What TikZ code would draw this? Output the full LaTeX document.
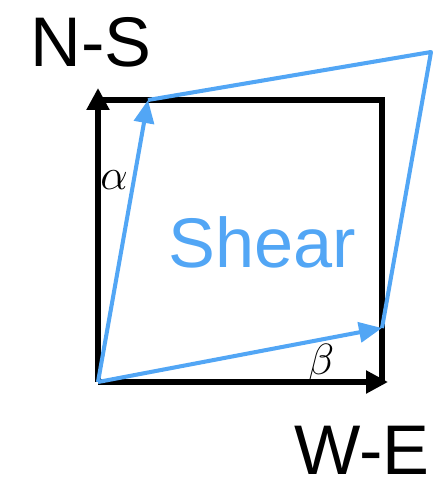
\documentclass[tikz,border=0pt]{standalone}
\usepackage{fontspec}
\setmainfont{Liberation Sans}
\usetikzlibrary{arrows.meta}

\definecolor{shearblue}{RGB}{82,166,245}

\begin{document}
\begin{tikzpicture}[x=0.02cm,y=-0.02cm,
  axis/.style={line width=3pt,-{Triangle[length=0.44cm,width=0.44cm]}},
  edge/.style={line width=2.3pt,shearblue,line join=round},
  sheararrow/.style={edge,-{Triangle[length=0.46cm,width=0.4cm]}},
  big/.style={font=\fontsize{40}{44}\selectfont},
  angle/.style={font=\fontsize{24}{28}\selectfont}]
\useasboundingbox (0,0) rectangle (438,483);

% Corners
\coordinate (O) at (98,382);
\coordinate (TL) at (98,100);
\coordinate (TR) at (382,100);
\coordinate (BR) at (382,382);
\coordinate (NS) at (98,88);
\coordinate (WE) at (388,382);
\coordinate (A) at (148,100);
\coordinate (B) at (382,328);
\coordinate (C) at (431,52);

% Square
\draw[line width=3pt] (TL) -- (TR) -- (BR);
\draw[axis] (O) -- (NS);
\draw[axis] (O) -- (WE);

% Sheared square
\draw[edge] (A) -- (C) -- (B);
\draw[sheararrow] (O) -- (A);
\draw[sheararrow] (O) -- (B);

% Labels
\node[big] (ns) at (91,42) {N-S};
\node[big,anchor=base west,inner sep=0pt] (we) at (294,474) {W-E};
\node[big,text=shearblue] (shear) at (262,242) {Shear};
\node[angle] (alpha) at (114,180) {$\alpha$};
\node[angle] (beta) at (321,364) {$\beta$};
\end{tikzpicture}
\end{document}
